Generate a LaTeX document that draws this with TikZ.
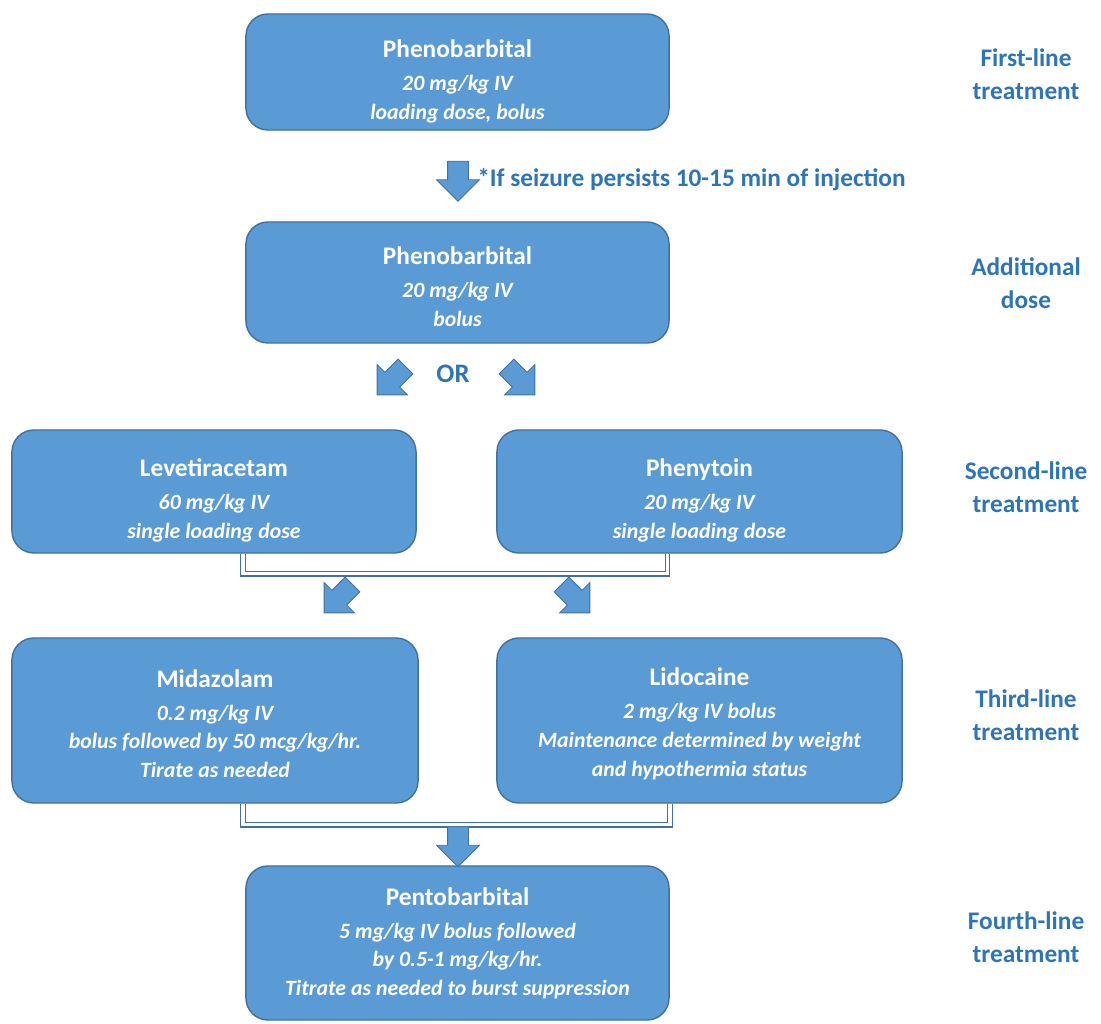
\documentclass[tikz,border=0pt]{standalone}
\usepackage{fontspec}
\setmainfont{Carlito}
\usetikzlibrary{shapes.arrows,positioning}

\definecolor{boxblue}{HTML}{5B9BD5}
\definecolor{boxedge}{HTML}{41719C}
\definecolor{labelblue}{HTML}{2E75B6}

% title line of a box; the optional argument pushes the text block down
\newcommand{\drugname}[2][0pt]{{\upshape\fontsize{18}{20}\selectfont\rule{0pt}{\dimexpr 13pt+#1\relax}#2}\\[3pt]}

\tikzset{
  drugbox/.style={draw=boxedge, fill=boxblue, line width=1pt, rounded corners=0.55cm,
    text=white, align=center, inner sep=0pt,
    font=\bfseries\itshape\fontsize{15.5}{20.5}\selectfont},
  fatarrow/.style={single arrow, draw=boxedge, fill=boxblue, line width=0.6pt,
    inner xsep=0pt, inner ysep=0.25cm, minimum height=1cm,
    single arrow head extend=0.275cm},
  stagelabel/.style={text=labelblue, align=center,
    font=\bfseries\fontsize{18}{23.5}\selectfont},
  bracket/.style={draw=boxedge, line width=0.8pt, double=white, double distance=2.4pt}
}

\begin{document}
\begin{tikzpicture}[x=0.025cm, y=-0.025cm]
  \useasboundingbox (0,0) rectangle (1101,1024);

  % first and additional dose
  \node[drugbox, minimum width=10.575cm, minimum height=2.9cm] (pheno1) at (457.5,72)
    {\drugname[13pt]{Phenobarbital}20 mg/kg IV\\loading dose, bolus};
  \node[fatarrow, rotate=-90] (arr1) at (458,176) {};
  \node[anchor=west, text=labelblue, font=\bfseries\fontsize{18}{20}\selectfont,
    inner sep=0pt] (persist) at (477,180) {*If seizure persists 10-15 min of injection};
  \node[drugbox, minimum width=10.575cm, minimum height=3.025cm] (pheno2) at (457.5,282.5)
    {\drugname[6pt]{Phenobarbital}20 mg/kg IV\\bolus};

  \node[fatarrow, rotate=-135] (orleft) at (395,377) {};
  \node[fatarrow, rotate=-45] (orright) at (517,377) {};
  \node[text=labelblue, font=\bfseries\fontsize{19}{20}\selectfont] (or) at (453,374) {OR};

  % second line
  \node[drugbox, minimum width=10.1cm, minimum height=3.075cm] (leve) at (214,491.5)
    {\drugname[12pt]{Levetiracetam}60 mg/kg IV\\single loading dose};
  \node[drugbox, minimum width=10.125cm, minimum height=3.075cm] (pheny) at (699.5,491.5)
    {\drugname[12pt]{Phenytoin}20 mg/kg IV\\single loading dose};
  \draw[bracket] ([xshift=0.725cm]leve.south) -- ++(0,20) -| ([xshift=-0.8cm]pheny.south);
  \node[fatarrow, rotate=-135] (secleft) at (342,595) {};
  \node[fatarrow, rotate=-45] (secright) at (572,595) {};

  % third line
  \node[drugbox, minimum width=10.15cm, minimum height=4.125cm] (mida) at (215,720.5)
    {\drugname[4pt]{Midazolam}0.2 mg/kg IV\\bolus followed by 50 mcg/kg/hr.\\Tirate as needed};
  \node[drugbox, minimum width=10.125cm, minimum height=4.125cm] (lido) at (699.5,720.5)
    {\drugname[4pt]{Lidocaine}2 mg/kg IV bolus\\Maintenance determined by weight\\and hypothermia status};
  \draw[bracket] ([xshift=0.7cm]mida.south) -- ++(0,21) -| ([xshift=-0.74cm]lido.south);
  \node[fatarrow, rotate=-90] (arr4) at (458,841.5) {};

  % fourth line
  \node[drugbox, minimum width=10.575cm, minimum height=3.85cm] (pento) at (457.5,943)
    {\drugname{Pentobarbital}5 mg/kg IV bolus followed\\by 0.5-1 mg/kg/hr.\\Titrate as needed to burst suppression};

  % stage labels
  \node[stagelabel] (first) at (1026,74) {First-line\\treatment};
  \node[stagelabel] (addit) at (1026,283) {Additional\\dose};
  \node[stagelabel] (second) at (1026,487) {Second-line\\treatment};
  \node[stagelabel] (third) at (1026,715) {Third-line\\treatment};
  \node[stagelabel] (fourth) at (1026,937) {Fourth-line\\treatment};
\end{tikzpicture}
\end{document}
